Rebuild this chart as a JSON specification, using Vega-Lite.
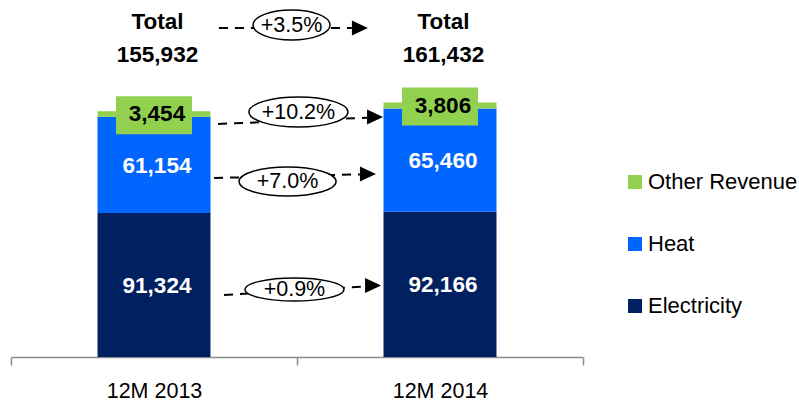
{
  "$schema": "https://vega.github.io/schema/vega-lite/v6.json",
  "width": 572,
  "height": 352,
  "padding": {"left": 10, "top": 5, "right": 0, "bottom": 0},
  "background": "white",
  "config": {"view": {"stroke": null}, "font": "Liberation Sans"},
  "datasets": {
    "revenue": [
      {"period": "12M 2013", "series": "Electricity", "value": 91324},
      {"period": "12M 2013", "series": "Heat", "value": 61154},
      {"period": "12M 2013", "series": "Other Revenue", "value": 3454},
      {"period": "12M 2014", "series": "Electricity", "value": 92166},
      {"period": "12M 2014", "series": "Heat", "value": 65460},
      {"period": "12M 2014", "series": "Other Revenue", "value": 3806}
    ],
    "arrows": [
      {"label": "+3.5%", "xs": 0.727, "ys": 208760, "xb": 1.192, "yb": 208760, "xt": 1.248, "yt": 208760, "xe": 0.981, "ye": 210660},
      {"label": "+10.2%", "xs": 0.724, "ys": 147840, "xb": 1.245, "yb": 151840, "xt": 1.301, "yt": 152280, "xe": 1.005, "ye": 155460},
      {"label": "+7.0%", "xs": 0.71, "ys": 113580, "xb": 1.22, "yb": 115860, "xt": 1.276, "yt": 116120, "xe": 0.967, "ye": 111360},
      {"label": "+0.9%", "xs": 0.745, "ys": 39340, "xb": 1.238, "yb": 44800, "xt": 1.294, "yt": 45370, "xe": 0.991, "ye": 42830}
    ]
  },
  "layer": [
    {
      "data": {"name": "revenue"},
      "layer": [
        {
          "mark": {"type": "bar", "width": {"band": 0.395}},
          "encoding": {
            "x": {
              "field": "period", "type": "nominal",
              "scale": {"paddingInner": 0, "paddingOuter": 0},
              "axis": {
                "title": null, "labelAngle": 0, "labelFontSize": 21.5, "labelColor": "#000000",
                "labelFont": "Liberation Sans", "domainColor": "#8c8c8c", "domainWidth": 1.5,
                "tickColor": "#8c8c8c", "tickWidth": 1.5, "tickSize": 8, "tickBand": "extent",
                "labelPadding": 15
              }
            },
            "y": {
              "field": "value", "type": "quantitative", "stack": "zero",
              "scale": {"domain": [0, 223350], "nice": false},
              "axis": null
            },
            "color": {
              "field": "series", "type": "nominal",
              "scale": {"domain": ["Other Revenue", "Heat", "Electricity"], "range": ["#92D050", "#0066FF", "#002060"]},
              "legend": {
                "orient": "none", "legendX": 613, "legendY": 166, "title": null,
                "symbolType": "square", "symbolSize": 196, "symbolStrokeWidth": 0,
                "labelFontSize": 22, "labelFont": "Liberation Sans", "labelColor": "#000000",
                "rowPadding": 40, "labelOffset": 2, "padding": 0
              }
            },
            "order": {"field": "series", "sort": "ascending"}
          }
        },
        {
          "mark": {"type": "text", "font": "Liberation Sans", "fontWeight": "bold", "fontSize": 22.5, "color": "white", "baseline": "middle", "dx": 3, "dy": 1},
          "encoding": {
            "x": {"field": "period", "type": "nominal"},
            "y": {"field": "value", "type": "quantitative", "stack": "zero", "bandPosition": 0.5},
            "detail": {"field": "series"},
            "order": {"field": "series", "sort": "ascending"},
            "text": {"condition": {"test": "datum.series === 'Other Revenue'", "value": ""}, "field": "value", "type": "quantitative", "format": ",.0f"}
          }
        },
        {
          "transform": [
            {"stack": "value", "groupby": ["period"], "sort": [{"field": "series", "order": "ascending"}], "as": ["lo", "hi"]},
            {"filter": "datum.series === 'Other Revenue'"}
          ],
          "layer": [
            {
              "mark": {"type": "point", "shape": "M-1,-0.395 L1,-0.395 L1,0.605 L-1,0.605 Z", "size": 5776, "filled": true, "color": "#92D050", "opacity": 1, "strokeWidth": 0},
              "encoding": {
                "x": {"field": "period", "type": "nominal"},
                "y": {"field": "hi", "type": "quantitative"}
              }
            },
            {
              "mark": {"type": "text", "font": "Liberation Sans", "fontWeight": "bold", "fontSize": 22.5, "color": "black", "baseline": "middle", "dx": 3, "dy": 3},
              "encoding": {
                "x": {"field": "period", "type": "nominal"},
                "y": {"field": "hi", "type": "quantitative"},
                "text": {"field": "value", "type": "quantitative", "format": ",.0f"}
              }
            }
          ]
        },
        {
          "transform": [{"aggregate": [{"op": "sum", "field": "value", "as": "total"}], "groupby": ["period"]}],
          "layer": [
            {
              "mark": {"type": "text", "text": "Total", "font": "Liberation Sans", "fontWeight": "bold", "fontSize": 22.5, "color": "black", "baseline": "alphabetic", "dx": 3.5},
              "encoding": {
                "x": {"field": "period", "type": "nominal"},
                "y": {"datum": 207900, "type": "quantitative"}
              }
            },
            {
              "mark": {"type": "text", "font": "Liberation Sans", "fontWeight": "bold", "fontSize": 22.5, "color": "black", "baseline": "alphabetic", "dx": 3.5},
              "encoding": {
                "x": {"field": "period", "type": "nominal"},
                "y": {"datum": 187400, "type": "quantitative"},
                "text": {"field": "total", "type": "quantitative", "format": ",.0f"}
              }
            }
          ]
        }
      ]
    },
    {
      "data": {"name": "arrows"},
      "layer": [
        {
          "mark": {"type": "rule", "strokeDash": [9, 7], "strokeWidth": 2, "color": "black"},
          "encoding": {
            "x": {"field": "xs", "type": "quantitative", "scale": {"domain": [0, 2], "nice": false, "zero": false}, "axis": null},
            "y": {"field": "ys", "type": "quantitative"},
            "x2": {"field": "xb"},
            "y2": {"field": "yb"}
          }
        },
        {
          "mark": {"type": "point", "shape": "M-2,-0.95 L0,0 L-2,0.95 Z", "size": 256, "filled": true, "color": "black", "opacity": 1},
          "encoding": {
            "x": {"field": "xt", "type": "quantitative"},
            "y": {"field": "yt", "type": "quantitative"}
          }
        },
        {
          "mark": {"type": "point", "size": 10000, "filled": true, "fill": "white", "stroke": "black", "strokeWidth": 1.5, "opacity": 1},
          "encoding": {
            "x": {"field": "xe", "type": "quantitative"},
            "y": {"field": "ye", "type": "quantitative"},
            "shape": {
              "field": "label", "type": "nominal", "legend": null,
              "scale": {
                "domain": ["+3.5%", "+10.2%", "+7.0%", "+0.9%"],
                "range": [
                  "M-0.77,0 C-0.77,-0.1657 -0.4253,-0.3 0,-0.3 C0.4253,-0.3 0.77,-0.1657 0.77,0 C0.77,0.1657 0.4253,0.3 0,0.3 C-0.4253,0.3 -0.77,0.1657 -0.77,0 Z",
                  "M-0.99,0 C-0.99,-0.1657 -0.5468,-0.3 0,-0.3 C0.5468,-0.3 0.99,-0.1657 0.99,0 C0.99,0.1657 0.5468,0.3 0,0.3 C-0.5468,0.3 -0.99,0.1657 -0.99,0 Z",
                  "M-0.97,0 C-0.97,-0.1602 -0.5357,-0.29 0,-0.29 C0.5357,-0.29 0.97,-0.1602 0.97,0 C0.97,0.1602 0.5357,0.29 0,0.29 C-0.5357,0.29 -0.97,0.1602 -0.97,0 Z",
                  "M-0.99,0 C-0.99,-0.127 -0.5468,-0.23 0,-0.23 C0.5468,-0.23 0.99,-0.127 0.99,0 C0.99,0.127 0.5468,0.23 0,0.23 C-0.5468,0.23 -0.99,0.127 -0.99,0 Z"
                ]
              }
            }
          }
        },
        {
          "mark": {"type": "text", "fontSize": 21.5, "font": "Liberation Sans", "color": "black", "baseline": "middle", "dy": 1},
          "encoding": {
            "x": {"field": "xe", "type": "quantitative"},
            "y": {"field": "ye", "type": "quantitative"},
            "text": {"field": "label"}
          }
        }
      ]
    }
  ],
  "resolve": {"scale": {"x": "independent"}, "axis": {"x": "independent"}}
}
